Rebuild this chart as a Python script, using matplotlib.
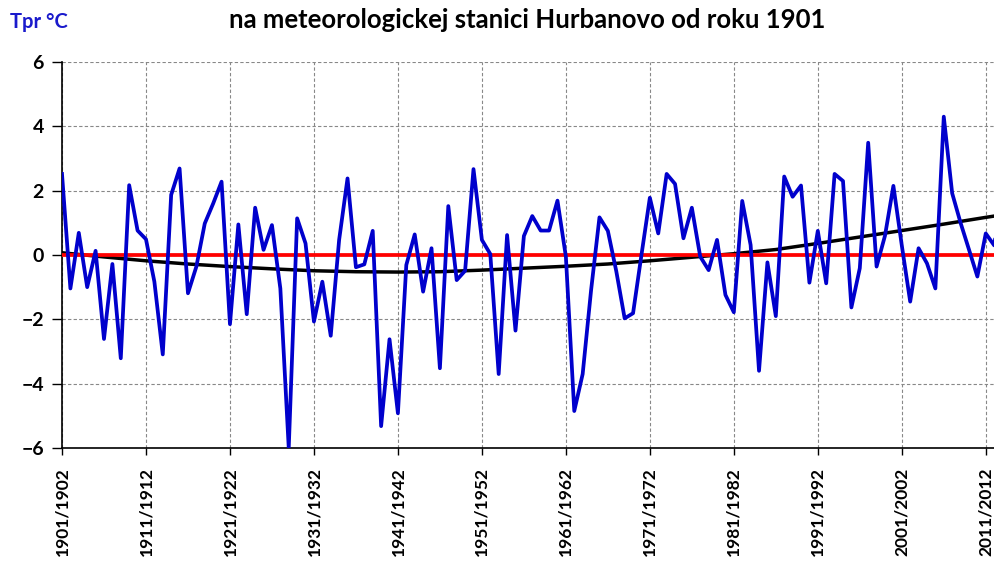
import numpy as np
import matplotlib
matplotlib.use("Agg")
import matplotlib.pyplot as plt

plt.rcParams['font.family'] = ['Lato', 'DejaVu Sans']
plt.rcParams['font.weight'] = 'bold'

# odchylky teploty od normalu, hydrologicke roky 1901/1902 ...
years = np.arange(1901, 2014)
tpr = [2.52, -1.04, 0.69, -1.00, 0.13, -2.61, -0.28, -3.21, 2.17, 0.76,
       0.49, -0.83, -3.09, 1.87, 2.69, -1.19, -0.36, 0.98, 1.60, 2.28,
       -2.15, 0.95, -1.84, 1.47, 0.16, 0.93, -1.04, -6.00, 1.14, 0.36,
       -2.07, -0.83, -2.51, 0.47, 2.38, -0.38, -0.29, 0.75, -5.32, -2.62,
       -4.92, -0.31, 0.64, -1.14, 0.21, -3.52, 1.52, -0.78, -0.49, 2.67,
       0.47, 0.03, -3.70, 0.62, -2.35, 0.59, 1.21, 0.76, 0.76, 1.69,
       -0.05, -4.85, -3.70, -1.10, 1.17, 0.75, -0.50, -1.97, -1.81, 0.00,
       1.78, 0.67, 2.52, 2.21, 0.52, 1.47, -0.05, -0.47, 0.47, -1.24,
       -1.78, 1.68, 0.31, -3.60, -0.23, -1.90, 2.44, 1.81, 2.16, -0.86,
       0.75, -0.88, 2.52, 2.30, -1.63, -0.41, 3.49, -0.36, 0.60, 2.15,
       0.30, -1.45, 0.21, -0.26, -1.04, 4.30, 1.92, 1.00, 0.17, -0.67,
       0.67, 0.30, 2.00]
labels = ['%d/%d' % (y, y + 1) for y in years]

# polynomicky trend (odcitany z grafu kazdych 5 rokov)
trend_idx = [0, 5, 10, 15, 20, 25, 30, 35, 40, 45, 50, 55, 60, 65, 70,
             75, 80, 85, 90, 95, 100, 105, 110, 112]
trend_val = [0.07, -0.06, -0.18, -0.28, -0.36, -0.43, -0.49, -0.52, -0.53,
             -0.52, -0.47, -0.41, -0.35, -0.28, -0.18, -0.07, 0.04, 0.17,
             0.36, 0.56, 0.76, 0.96, 1.17, 1.25]

x = np.arange(len(tpr))

fig = plt.figure(figsize=(9.95, 5.62), dpi=100)
ax = fig.add_axes([62/995, 114/562, 1 - 62/995, 386/562])

ax.plot(trend_idx, trend_val, color='black', lw=2.5, zorder=3)
ax.plot(x, np.zeros(len(x)), color='#ff0000', lw=2.7, zorder=3)
ax.plot(x, tpr, color='#0000cc', lw=2.7, zorder=4)

ax.set_xlim(0, 111.1)
ax.set_ylim(-6, 6)
ax.set_yticks(np.arange(-6, 7, 2))
ax.set_xticks(x[::10])
ax.set_xticklabels(labels[::10], rotation=90, va='top', fontsize=12.5, fontweight='bold')
for t in ax.get_yticklabels():
    t.set_fontsize(14)
    t.set_fontweight('bold')

ax.grid(True, color='#888888', linestyle=(0, (3, 2)), lw=0.8)
ax.tick_params(axis='x', direction='out', length=5, width=1, pad=9)
ax.tick_params(axis='y', direction='out', length=7, width=1, pad=6)
for s in ['top', 'right']:
    ax.spines[s].set_visible(False)
ax.spines['left'].set_linewidth(1.2)
ax.spines['bottom'].set_linewidth(1.2)

fig.text(527/995, 1 - 20/562, 'na meteorologickej stanici Hurbanovo od roku 1901',
         ha='center', va='center', fontsize=18.5, fontweight='bold')
fig.text(10/995, 1 - 22/562, 'Tpr °C', ha='left', va='center', fontsize=14.5,
         fontweight='bold', color='#1a1acc')

fig.savefig('out.png', dpi=100)
